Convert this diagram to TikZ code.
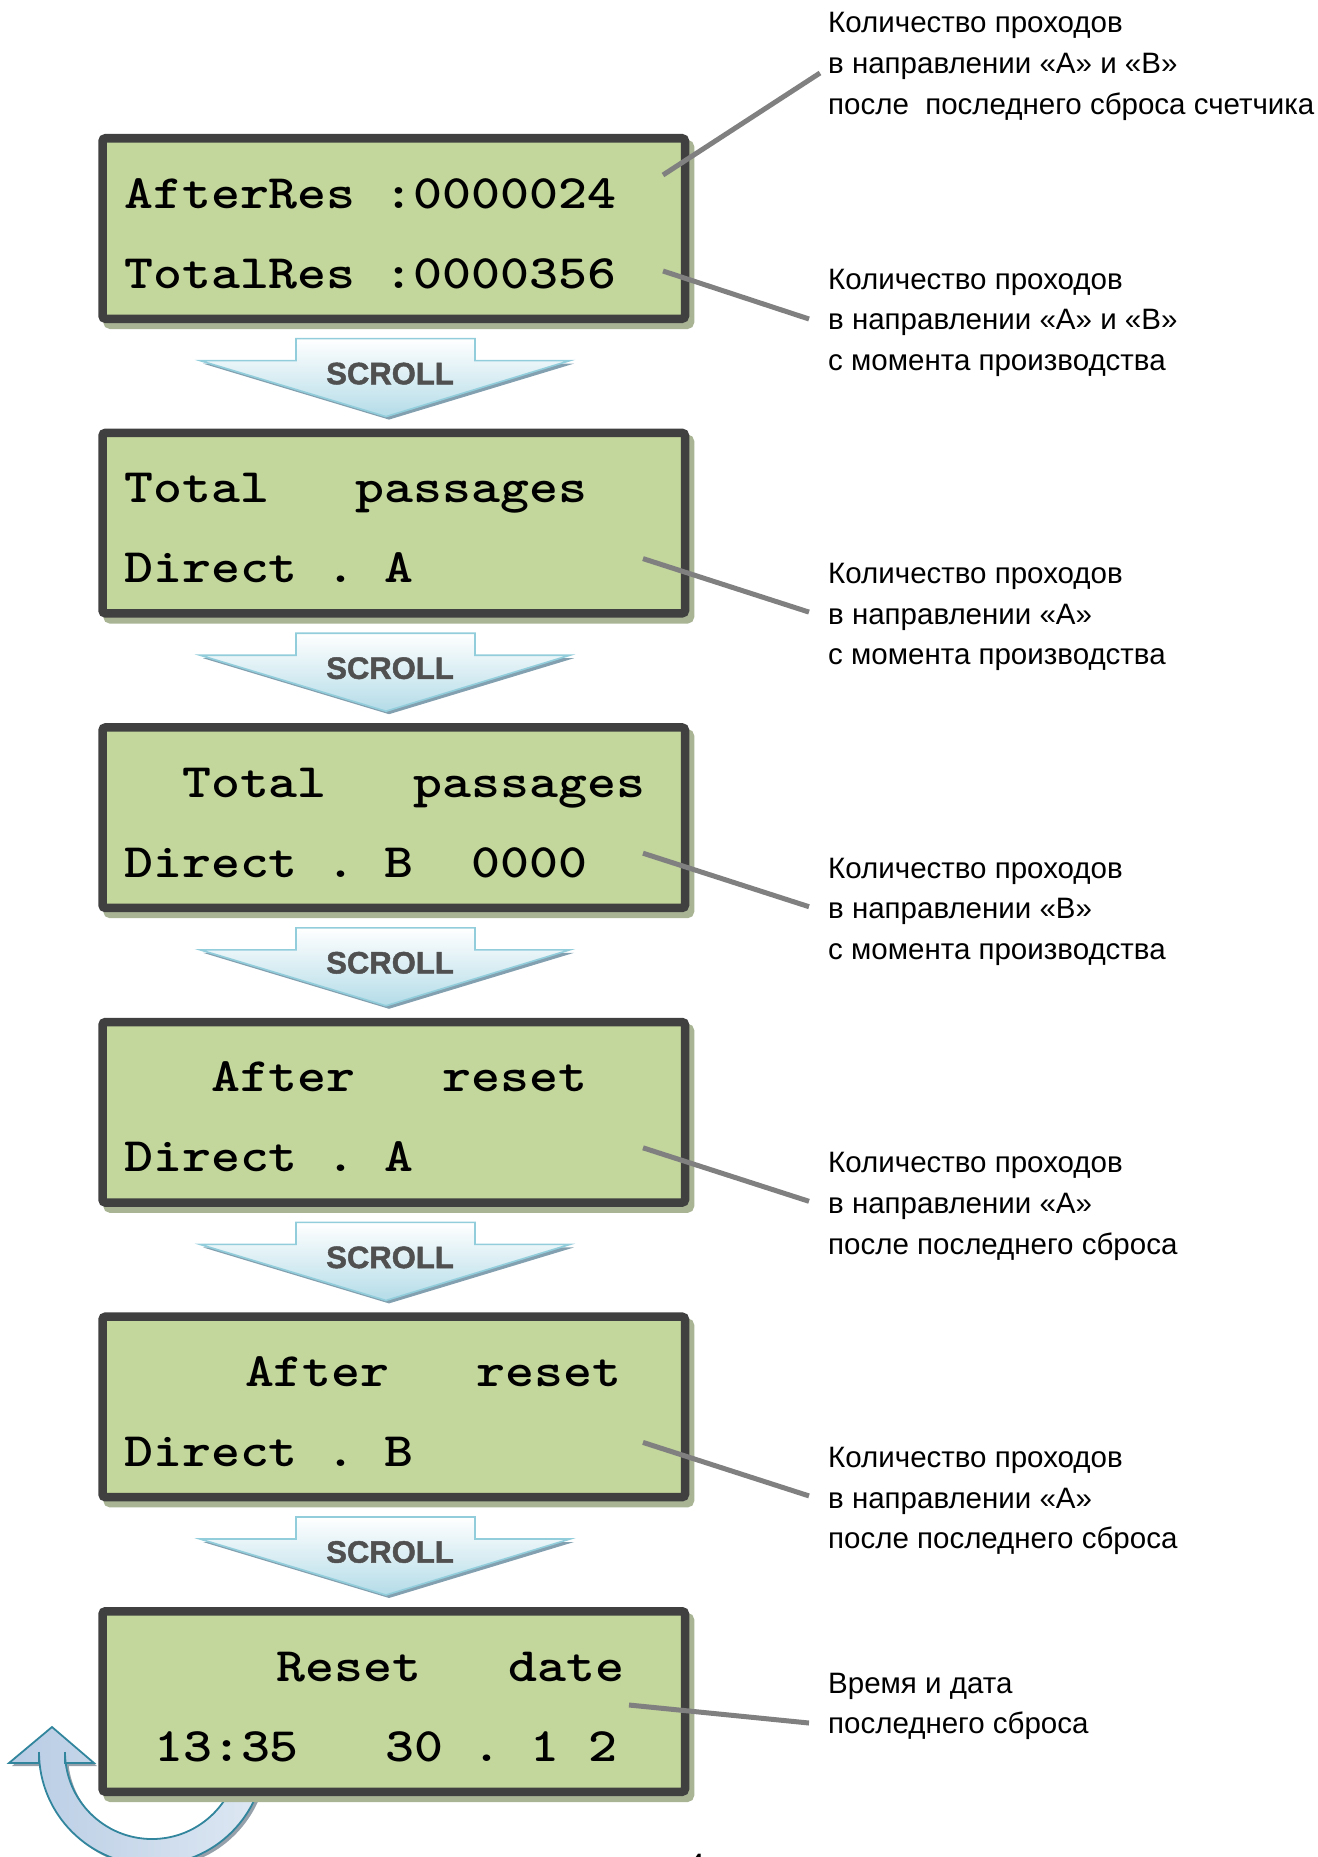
\documentclass[tikz,border=0pt]{standalone}
\usepackage{fontspec}
\newfontfamily\labfont{Liberation Sans}
\newfontfamily\scrollfont[FakeBold=1.5]{Liberation Sans Bold}
\usetikzlibrary{calc}
\definecolor{lcdfill}{RGB}{195,214,155}
\definecolor{lcdedge}{RGB}{64,64,64}
\definecolor{lcdshadow}{RGB}{168,180,148}
\definecolor{linegray}{RGB}{128,128,128}
\definecolor{arrowedge}{RGB}{146,205,220}
\definecolor{arrowbot}{RGB}{180,220,232}
\definecolor{arrowshadow}{RGB}{130,160,175}
\definecolor{scrolltext}{RGB}{80,80,80}
\definecolor{loopedge}{RGB}{49,133,156}
\definecolor{loopleft}{RGB}{184,204,228}
\definecolor{loopright}{RGB}{222,232,243}
\definecolor{loopshadow}{RGB}{150,160,170}
\newcommand\lcdtext[1]{\scalebox{1.149}[1]{\fontsize{48}{48}\fontseries{b}\ttfamily #1}}
\tikzset{
  lcd/.style={draw=lcdedge, fill=lcdfill, line width=8.5pt, rounded corners=3pt,
    minimum width=582.5pt, minimum height=180.5pt, inner sep=0pt},
  lcdshade/.style={draw=lcdshadow, fill=lcdshadow, line width=8.5pt, rounded corners=3pt},
  lcdtxt/.style={anchor=base west, inner sep=0pt, text=black},
  scrollshape/.style={draw=arrowedge, line width=1.6pt, top color=white, bottom color=arrowbot, line join=miter},
  scrollshade/.style={fill=arrowshadow},
  scrolltxt/.style={inner sep=0pt, text=scrolltext, font={\scrollfont\fontsize{31}{31}\selectfont}},
  lab/.style={anchor=base west, inner sep=0pt, align=left, font={\labfont\fontsize{29.5}{40.6}\selectfont}},
  conn/.style={draw=linegray, line width=5pt},
}
\newcommand\lcdbox[2]{%
  \draw[lcdshade] (107.5,#2+10.25) rectangle ++(582.5,180.5);
  \node[lcd] (#1) at (393.75,#2+94.5) {};
}
\newcommand\scrollarrow[2]{%
  \fill[scrollshade] (299,#2-65) -- (574,#2-65) -- (389,#2-9) -- (203,#2-65) -- cycle;
  \path[scrollshape] (296,#2-90) -- (475,#2-90) -- (475,#2-68) -- (570,#2-68) -- (386,#2-12) -- (200,#2-68) -- (296,#2-68) -- cycle;
  \node[scrolltxt] (#1) at (390,#2-55) {SCROLL};
}
\begin{document}
\begin{tikzpicture}[x=1pt,y=-1pt]
\useasboundingbox (0,0) rectangle (1317,1857);
% loop arrow (behind last box)
\fill[loopshadow] (55,1730) -- (97,1766) -- (68,1766) -- (68,1755) arc[start angle=180,end angle=0,radius=87] -- (268,1755) arc[start angle=0,end angle=180,radius=113] -- (42,1766) -- (12,1766) -- cycle;
\draw[draw=loopedge, line width=1.8pt, left color=loopleft, right color=loopright, line join=miter]
  (52,1727) -- (94,1763) -- (65,1763) -- (65,1752) arc[start angle=180,end angle=0,radius=87] -- (265,1752) arc[start angle=0,end angle=180,radius=113] -- (39,1763) -- (9,1763) -- cycle;
% LCD boxes
\lcdbox{box1}{134}
\lcdbox{box2}{428.6}
\lcdbox{box3}{723.2}
\lcdbox{box4}{1017.8}
\lcdbox{box5}{1312.4}
\lcdbox{box6}{1607}
% LCD texts
\node[lcdtxt] (t1a) at (124,208) {\lcdtext{AfterRes\ :0000024}};
\node[lcdtxt] (t1b) at (124,288) {\lcdtext{TotalRes\ :0000356}};
\node[lcdtxt] (t2a) at (124,502.6) {\lcdtext{Total\ \ \ passages}};
\node[lcdtxt] (t2b) at (124,582.6) {\lcdtext{Direct\ .\ A}};
\node[lcdtxt] (t3a) at (124,797.2) {\lcdtext{\ \ Total\ \ \ passages}};
\node[lcdtxt] (t3b) at (124,877.2) {\lcdtext{Direct\ .\ B\ \ 0000}};
\node[lcdtxt] (t4a) at (124,1091.8) {\lcdtext{\ \ \ After\ \ \ reset}};
\node[lcdtxt] (t4b) at (124,1171.8) {\lcdtext{Direct\ .\ A}};
\node[lcdtxt] (t5a) at (129,1386.4) {\lcdtext{\ \ \ \ After\ \ \ reset}};
\node[lcdtxt] (t5b) at (124,1466.4) {\lcdtext{Direct\ .\ B}};
\node[lcdtxt] (t6a) at (132,1681) {\lcdtext{\ \ \ \ \ Reset\ \ \ date}};
\node[lcdtxt] (t6b) at (125,1761) {\lcdtext{\ 13:35\ \ \ 30\ .\ 1\ 2}};
% scroll arrows
\scrollarrow{s1}{428.6}
\scrollarrow{s2}{723.2}
\scrollarrow{s3}{1017.8}
\scrollarrow{s4}{1312.4}
\scrollarrow{s5}{1607}
% labels (base = baseline of last line)
\node[lab] (lab1) at (828,114.2) {Количество проходов\\в направлении «A» и «B»\\после\ \ последнего сброса счетчика};
\node[lab] (lab2) at (828,370.2) {Количество проходов\\в направлении «A» и «B»\\с момента производства};
\node[lab] (lab3) at (828,664.8) {Количество проходов\\в направлении «A»\\с момента производства};
\node[lab] (lab4) at (828,959.4) {Количество проходов\\в направлении «B»\\с момента производства};
\node[lab] (lab5) at (828,1254) {Количество проходов\\в направлении «A»\\после последнего сброса};
\node[lab] (lab6) at (828,1548.6) {Количество проходов\\в направлении «A»\\после последнего сброса};
\node[lab] (lab7) at (828,1733.6) {Время и дата\\последнего сброса};
\node[anchor=base west, inner sep=0pt, font={\labfont\fontsize{29.5}{30}\selectfont}] (pg) at (688,1874) {4};
% connectors
\coordinate (p1a) at (663,175);  \coordinate (q1a) at (820,73);
\coordinate (p1b) at (663,271);  \coordinate (q1b) at (809,319);
\coordinate (p2) at (643,558.6); \coordinate (q2) at (809,612.1);
\coordinate (p3) at (643,853.2); \coordinate (q3) at (809,906.7);
\coordinate (p4) at (643,1147.8); \coordinate (q4) at (809,1201.3);
\coordinate (p5) at (643,1442.4); \coordinate (q5) at (809,1495.9);
\coordinate (p6) at (629,1705);  \coordinate (q6) at (809,1723);
\draw[conn] (p1a) -- (q1a);
\draw[conn] (p1b) -- (q1b);
\draw[conn] (p2) -- (q2);
\draw[conn] (p3) -- (q3);
\draw[conn] (p4) -- (q4);
\draw[conn] (p5) -- (q5);
\draw[conn] (p6) -- (q6);
\end{tikzpicture}
\end{document}
